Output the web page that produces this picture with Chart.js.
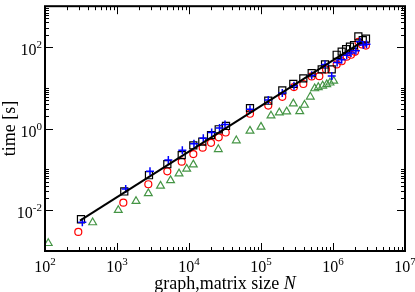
<!DOCTYPE html>
<html>
<head>
<meta charset="utf-8">
<script src="https://cdn.jsdelivr.net/npm/chart.js@4/dist/chart.umd.min.js"></script>
<style>
html,body{margin:0;padding:0;background:#fff;}
#wrap{width:415px;height:292px;}
</style>
</head>
<body>
<div id="wrap"><canvas id="c" width="415" height="292"></canvas></div>
<script>
// ---- data ----
const squaresN = [316,1262,2781,5000,7925,11480,15310,20230,25870,32660,70310,126200,197600,281000,387000,506000,697000,775000,960000,1125000,1320000,1520000,1720000,1960000,2250000,2590000,2870000];
const squaresT = [0.0060,0.0288,0.072,0.134,0.224,0.387,0.482,0.692,0.962,1.16,3.16,4.82,8.63,12.4,17.0,22.8,28.3,37.3,28.3,64.5,77.3,88.1,101.6,111.6,182.7,146.8,161];

const plusN = [330,1321,2872,5164,8078,11720,15800,20650,26550,31620,70310,126200,197600,287000,506000,775000,960000,1140000,1320000,1550000,1780000,2080000,2370000,2640000,2920000];
const plusT = [0.0051,0.0329,0.0896,0.170,0.294,0.423,0.578,0.803,1.03,1.26,2.99,4.99,7.48,11.3,20.4,37.2,19.6,41.6,49,62.8,70.8,80.4,133.6,111.6,116];

const circlesN = [290,1225,2723,5000,7925,11480,15490,20230,25870,32350,70310,126200,197600,287000,387000,506000,646000,800000,1125000,1320000,1550000,1780000,2020000,2260000,2530000,2870000];
const circlesT = [0.00294,0.0153,0.0432,0.0896,0.155,0.237,0.340,0.447,0.611,0.803,2.31,3.66,6.0,10.4,12.4,19.0,19.3,27.9,37.3,44.7,57.8,64.5,76,133.6,115,108.6];

const trianglesN = [111,459,1042,1837,2723,4020,5540,7264,9290,11480,25530,45400,70310,100000,137700,179500,227300,281000,345000,402000,484000,557000,625000,719000,818000,908000,1023000];
const trianglesT = [0.00155,0.0050,0.0100,0.0166,0.0258,0.0394,0.0538,0.079,0.103,0.131,0.311,0.509,0.881,1.10,2.07,2.47,2.61,4.09,2.64,3.79,6.01,9.62,10.3,11.2,12.1,13.3,14.7];

const fitN = [306,2500000];
const fitT = [0.00556,132];

const xTickExponents = [2,3,4,5,6,7];
const yTickExponents = [-2,0,2];
const xTitle = "graph,matrix size ";
const xTitleItalic = "N";
const yTitle = "time [s]";

// ---- helpers ----
const zip = (a,b) => a.map((v,i)=>({x:v,y:b[i]}));
const SERIF = '"Liberation Serif","DejaVu Serif",serif';
const GREEN = '#459545';

const axisPlugin = {
  id:'axisPlugin',
  afterDraw(chart){
    const {ctx, chartArea:{left,right,top,bottom}, scales:{x,y}} = chart;
    ctx.save();
    ctx.strokeStyle='#000';
    ctx.lineWidth=1;
    // x ticks (bottom & top)
    const xMin = xTickExponents[0], xMax = xTickExponents[xTickExponents.length-1];
    for(let e=xMin;e<=xMax;e++){
      const px = Math.round(x.getPixelForValue(Math.pow(10,e)))+0.5;
      ctx.beginPath();
      ctx.moveTo(px,bottom); ctx.lineTo(px,bottom-8);
      ctx.moveTo(px,top); ctx.lineTo(px,top+8);
      ctx.stroke();
      if(e<xMax){
        for(let k=2;k<=9;k++){
          const p = Math.round(x.getPixelForValue(k*Math.pow(10,e)))+0.5;
          ctx.beginPath();
          ctx.moveTo(p,bottom); ctx.lineTo(p,bottom-4);
          ctx.moveTo(p,top); ctx.lineTo(p,top+4);
          ctx.stroke();
        }
      }
    }
    // y ticks (left & right)
    for(const e of yTickExponents){
      const py = Math.round(y.getPixelForValue(Math.pow(10,e)))+0.5;
      ctx.beginPath();
      ctx.moveTo(left,py); ctx.lineTo(left+8,py);
      ctx.moveTo(right,py); ctx.lineTo(right-8,py);
      ctx.stroke();
      for(let k=2;k<=10;k++){
        const p = Math.round(y.getPixelForValue(k*Math.pow(10,e)))+0.5;
        if(p<top) continue;
        ctx.beginPath();
        ctx.moveTo(left,p); ctx.lineTo(left+4,p);
        ctx.moveTo(right,p); ctx.lineTo(right-4,p);
        ctx.stroke();
      }
    }
    // frame
    ctx.lineWidth=2;
    ctx.strokeRect(left,top,right-left,bottom-top);

    // labels
    ctx.fillStyle='#000';
    const big = '16px '+SERIF, small = '11px '+SERIF;
    ctx.textBaseline='alphabetic';
    for(const e of xTickExponents){
      const px = x.getPixelForValue(Math.pow(10,e));
      ctx.font=big; const w1 = ctx.measureText('10').width;
      ctx.font=small; const w2 = ctx.measureText(String(e)).width;
      const x0 = px - (w1+w2)/2;
      ctx.font=big; ctx.textAlign='left';
      ctx.fillText('10',x0,272);
      ctx.font=small;
      ctx.fillText(String(e),x0+w1,265);
    }
    for(const e of yTickExponents){
      const py = y.getPixelForValue(Math.pow(10,e));
      const lab = e<0 ? '-'+Math.abs(e) : String(e);
      ctx.font=small; const w2 = ctx.measureText(lab).width;
      ctx.font=big; const w1 = ctx.measureText('10').width;
      const xr = 42;
      ctx.textAlign='left';
      ctx.fillText('10',xr-w2-w1,py+8);
      ctx.font=small;
      ctx.fillText(lab,xr-w2,py+1);
    }
    // x title
    ctx.font='18px '+SERIF;
    const wt = ctx.measureText(xTitle).width;
    ctx.font='italic 18px '+SERIF;
    const wn = ctx.measureText(xTitleItalic).width;
    const cx = (left+right)/2;
    const xs = cx-(wt+wn)/2;
    ctx.font='18px '+SERIF; ctx.textAlign='left';
    ctx.fillText(xTitle,xs,289);
    ctx.font='italic 18px '+SERIF;
    ctx.fillText(xTitleItalic,xs+wt,289);
    // y title
    ctx.save();
    ctx.translate(15,(top+bottom)/2);
    ctx.rotate(-Math.PI/2);
    ctx.font='18px '+SERIF; ctx.textAlign='center';
    ctx.fillText(yTitle,0,0);
    ctx.restore();
    ctx.restore();
  }
};

new Chart(document.getElementById('c'),{
  type:'scatter',
  data:{
    datasets:[
      {label:'fit',type:'line',data:zip(fitN,fitT),borderColor:'#000',borderWidth:2,pointRadius:0,showLine:true,fill:false,order:0},
      {label:'plus',data:zip(plusN,plusT),pointStyle:'cross',pointRadius:4,pointBorderWidth:1.5,borderColor:'#0000ff',backgroundColor:'#0000ff',order:1},
      {label:'squares',data:zip(squaresN,squaresT),pointStyle:'rect',pointRadius:5,pointBorderWidth:1.2,borderColor:'#000',backgroundColor:'rgba(0,0,0,0)',order:2},
      {label:'circles',data:zip(circlesN,circlesT),pointStyle:'circle',pointRadius:3.5,pointBorderWidth:1.2,borderColor:'#ff0000',backgroundColor:'rgba(0,0,0,0)',order:3},
      {label:'triangles',data:zip(trianglesN,trianglesT),pointStyle:'triangle',pointRadius:4.5,pointBorderWidth:1.2,borderColor:GREEN,backgroundColor:'rgba(0,0,0,0)',order:4}
    ]
  },
  options:{
    responsive:false,
    animation:false,
    devicePixelRatio:1,
    layout:{padding:{left:45,right:10,top:1,bottom:41}},
    plugins:{legend:{display:false},tooltip:{enabled:false}},
    scales:{
      x:{type:'logarithmic',min:100,max:1e7,display:false},
      y:{type:'logarithmic',min:1e-3,max:1e3,display:false}
    }
  },
  plugins:[axisPlugin]
});
</script>
</body>
</html>
